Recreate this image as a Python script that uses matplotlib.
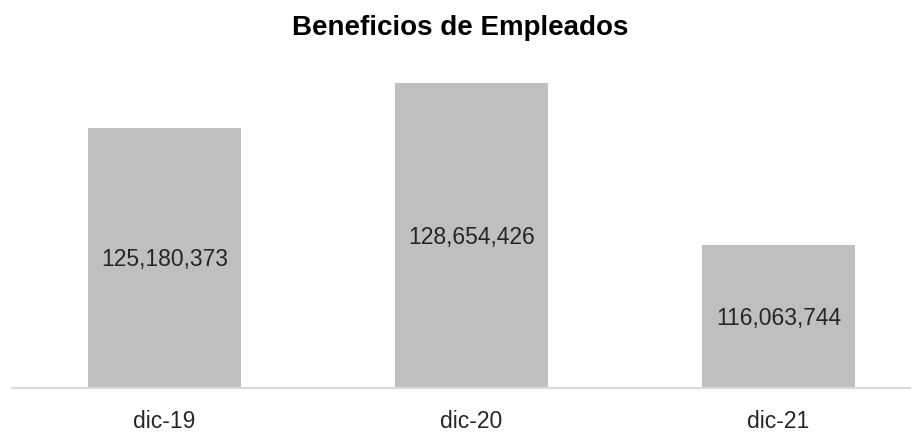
import matplotlib
matplotlib.use("Agg")
import matplotlib.pyplot as plt
import matplotlib.transforms as mtransforms

categories = ["dic-19", "dic-20", "dic-21"]
values = [125180373, 128654426, 116063744]
value_labels = ["125,180,373", "128,654,426", "116,063,744"]
title = "Beneficios de Empleados"

plt.rcParams['font.family'] = ["Liberation Sans", "DejaVu Sans"]

fig = plt.figure(figsize=(9.21, 4.32), dpi=100)
W, H = 921, 432
left_px, right_px = 12, 910
base_px, top_px = 388, 65.5
ax = fig.add_axes([left_px / W, (H - base_px) / H, (right_px - left_px) / W, (base_px - top_px) / H])

ymin, ymax = 105e6, 130e6
x = list(range(len(categories)))
ax.bar(x, values, bottom=0, width=0.5, color="#BFBFBF", zorder=2)
ax.set_ylim(ymin, ymax)
spacing = 307.0
ax.set_xlim(-(164.5 - left_px) / spacing, 2 + (right_px - 778.5) / spacing)

lab_size = 16.5
cap = 0.716 * lab_size
trans = mtransforms.offset_copy(ax.transData, fig=fig, x=0, y=-cap / 2, units="points")
for xi, v, lab in zip(x, values, value_labels):
    ax.text(xi, (ymin + v) / 2, lab, ha="center", va="baseline", fontsize=lab_size,
            color="#262626", zorder=3, transform=trans)

for s in ["top", "left", "right"]:
    ax.spines[s].set_visible(False)
ax.spines["bottom"].set_color("#D9D9D9")
ax.spines["bottom"].set_linewidth(1.5)
ax.set_yticks([])
ax.set_xticks(x)
ax.set_xticklabels(categories, fontsize=lab_size, color="#262626")
ax.tick_params(axis="x", length=0, pad=15.5)

fig.text(0.5, 1 - 35 / H, title, ha="center", va="baseline", fontsize=20, fontweight="bold",
         color="#000000")

fig.savefig("out.png", dpi=100, facecolor="white")
